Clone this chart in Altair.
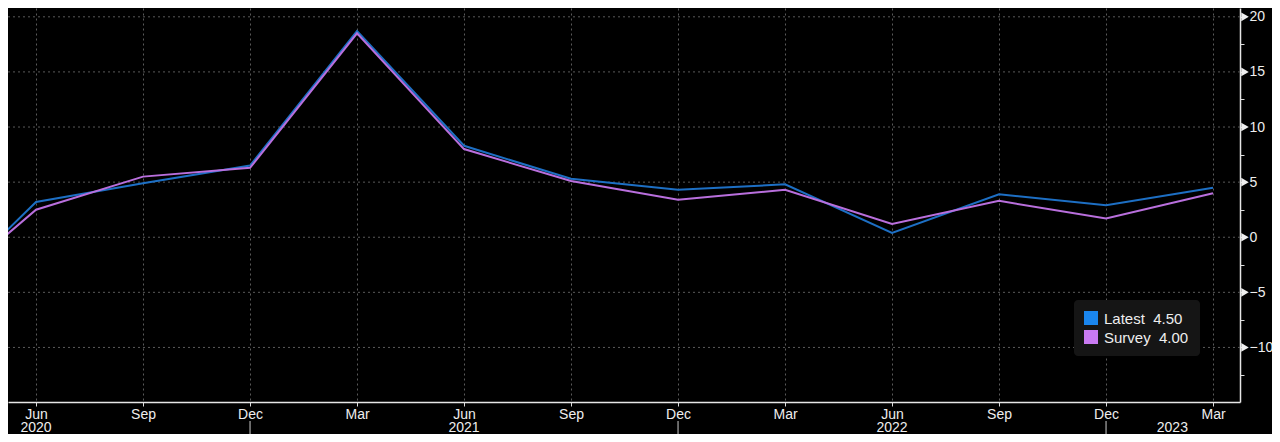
import altair as alt
import pandas as pd

# ---- data ----
quarter_index = list(range(13))            # 0 = Mar 2020 ... 12 = Mar 2023
month_names = ["Mar", "Jun", "Sep", "Dec"]
latest = [-6.3, 3.2, 4.9, 6.5, 18.7, 8.3, 5.3, 4.3, 4.8, 0.4, 3.9, 2.9, 4.5]
survey = [-5.8, 2.5, 5.5, 6.3, 18.5, 8.0, 5.1, 3.4, 4.3, 1.2, 3.3, 1.7, 4.0]
series_names = ["Latest", "Survey"]
line_colors = ["#1d6fc4", "#b96fdd"]
swatch_colors = ["#1a86ee", "#c97af2"]
years = ["2020", "2021", "2022", "2023"]
year_anchor = [1, 5, 9, 11.62]
year_breaks = [3, 7, 11]
y_major = [-10, -5, 0, 5, 10, 15, 20]
y_minor_ticks = [-12.5, -10, -7.5, -5, -2.5, 0, 2.5, 5, 7.5, 10, 12.5, 15, 17.5, 20]

W, H = 1232, 394
PAD_R, PAD_B = 32, 32
xdom = [0.738, 12.252]
ydom = [-14.95, 20.8]
FONT = "Liberation Sans"
TXT = "#eeeeee"
GRID = "#5a5a5a"

rows = []
for i, q in enumerate(quarter_index):
    rows.append({"q": q, "series": "Latest", "v": latest[i]})
    rows.append({"q": q, "series": "Survey", "v": survey[i]})
df = pd.DataFrame(rows)

xscale = alt.Scale(domain=xdom, nice=False, zero=False)
yscale = alt.Scale(domain=ydom, nice=False, zero=False)

month_expr = "[" + ",".join("'" + m + "'" for m in month_names) + "][datum.value % 4]"

xaxis = alt.Axis(
    values=quarter_index[1:], labelExpr=month_expr, orient="bottom",
    grid=True, gridColor=GRID, gridDash=[2, 3], gridWidth=1,
    tickSize=4, tickColor="#dddddd", domainColor="#e6e6e6", domainWidth=1.5,
    labelPadding=1, labelFontSize=14, labelColor=TXT, labelFont=FONT, title=None,
)
yaxis = alt.Axis(
    values=y_minor_ticks, orient="right",
    labelExpr="datum.value % 5 == 0 ? datum.label : ''",
    grid=False, tickSize=4, tickColor="#dddddd", domainColor="#e6e6e6", domainWidth=1.5,
    labelPadding=5, labelFontSize=14, labelColor=TXT, labelFont=FONT, title=None,
)

hgrid = alt.Chart(pd.DataFrame({"y": y_major})).mark_rule(
    color=GRID, strokeDash=[2, 3], strokeWidth=1
).encode(
    x=alt.value(0), x2=alt.value(W),
    y=alt.Y("y:Q", scale=yscale, axis=yaxis),
)

lines = alt.Chart(df).mark_line(strokeWidth=2, clip=True).encode(
    x=alt.X("q:Q", scale=xscale, axis=xaxis),
    y=alt.Y("v:Q", scale=yscale, axis=yaxis),
    color=alt.Color("series:N", scale=alt.Scale(domain=series_names, range=line_colors), legend=None),
    order=alt.Order("q:Q"),
)

tri = alt.Chart(pd.DataFrame({"y": y_major})).mark_point(
    shape="triangle-right", filled=True, color="#f0f0f0", size=75, opacity=1, clip=False
).encode(x=alt.value(W + 5), y=alt.Y("y:Q", scale=yscale, axis=yaxis))

year_df = pd.DataFrame({"q": year_anchor, "label": years})
year_text = alt.Chart(year_df).mark_text(
    font=FONT, fontSize=14, color=TXT, baseline="middle", align="center", clip=False
).encode(x=alt.X("q:Q", scale=xscale, axis=xaxis), y=alt.value(H + 26), text="label:N")

seps = alt.Chart(pd.DataFrame({"q": year_breaks})).mark_rule(
    color="#cccccc", strokeWidth=1, clip=False
).encode(x=alt.X("q:Q", scale=xscale, axis=xaxis), y=alt.value(H + 19), y2=alt.value(H + PAD_B))

# legend box
leg_bg = alt.Chart(pd.DataFrame({"a": [0]})).mark_rect(
    color="#151515", cornerRadius=4
).encode(x=alt.value(1066), x2=alt.value(1192), y=alt.value(292), y2=alt.value(348))

last_vals = [latest[-1], survey[-1]]
row_y = [310, 329]
legend_layers = []
for name, val, col, ry in zip(series_names, last_vals, swatch_colors, row_y):
    d = pd.DataFrame({"label": [name + "\u00a0\u00a0" + f"{val:.2f}"]})
    legend_layers.append(
        alt.Chart(d).mark_square(size=196, filled=True, opacity=1, color=col).encode(
            x=alt.value(1083), y=alt.value(ry)
        )
    )
    legend_layers.append(
        alt.Chart(d).mark_text(
            font=FONT, fontSize=15, color=TXT, align="left", baseline="middle"
        ).encode(x=alt.value(1096), y=alt.value(ry + 1), text="label:N")
    )

chart = alt.layer(
    hgrid, lines, leg_bg, *legend_layers, tri, year_text, seps
).properties(
    width=W, height=H, background="#000000",
    autosize=alt.AutoSizeParams(type="none"),
    padding={"left": 0, "top": 0, "right": PAD_R, "bottom": PAD_B},
).configure_view(strokeWidth=0)

chart.save("out.html", embed_options={"renderer": "svg", "actions": False})
